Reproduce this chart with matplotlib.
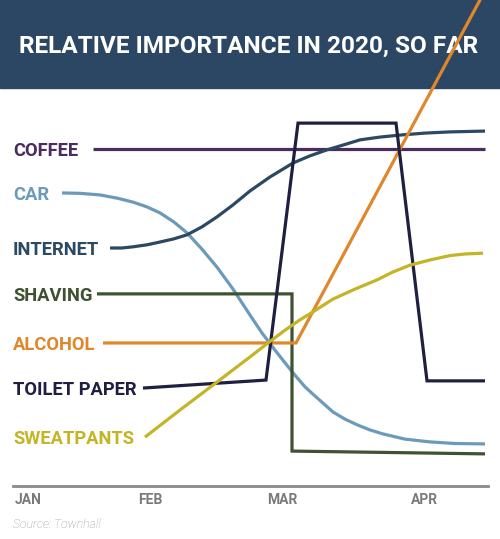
import matplotlib
matplotlib.use('Agg')
import matplotlib.pyplot as plt
from matplotlib.patches import Rectangle

plt.rcParams['font.family'] = ['Roboto', 'DejaVu Sans']

# time axis runs 0..100 across the chart, importance 0..100 from axis line to banner
month_labels = ['JAN', 'FEB', 'MAR', 'APR']
month_pos = [5.6, 30, 56.4, 84.8]

coffee_x = [18.6, 97]
coffee_y = [84.7, 84.7]

car_x = [12.4, 16, 20, 23.4, 26.6, 29.4, 32, 34.8, 37.4, 40.4, 43.4, 46.6, 50, 52.4,
         55, 58.6, 61, 63, 66.6, 69, 71.6, 74, 76.6, 81, 86, 91, 97]
car_y = [73.7, 73.6, 73.2, 72.4, 71.4, 70.2, 68.7, 66.4, 63.7, 59.6, 55.1, 49.6, 43.1, 38.6,
         34.3, 28.6, 25.1, 22.8, 18.8, 17.0, 15.5, 14.3, 13.3, 12.0, 11.3, 10.9, 10.8]

internet_x = [22, 24.4, 26.6, 29.4, 32, 34.8, 37.4, 40.4, 43.4, 46.6, 50, 54, 58.6, 62,
              65.4, 68.6, 72, 76, 80, 85, 90, 97]
internet_y = [59.9, 59.9, 60.2, 60.7, 61.4, 62.2, 63.2, 65.2, 67.7, 70.7, 74.2, 77.7, 81.2, 83.0,
              84.5, 85.7, 87.0, 87.7, 88.2, 88.7, 89.0, 89.2]

shaving_x = [19.4, 58.4, 58.4, 97]
shaving_y = [48.4, 48.4, 9.0, 8.3]

alcohol_x = [20.6, 59.2, 97]
alcohol_y = [36.1, 36.1, 124.4]

toilet_x = [28.6, 53.2, 59.6, 79.2, 85.4, 97]
toilet_y = [24.8, 26.8, 91.2, 91.2, 26.6, 26.6]

sweat_x = [29, 36, 43.4, 50, 53.6, 57, 60, 62.6, 66.6, 71, 75.4, 78.6, 82, 86, 90, 93, 96.6]
sweat_y = [12.5, 19.3, 26.3, 32.6, 36.1, 39.3, 41.9, 43.9, 47.1, 49.6, 51.9, 53.9, 55.6, 56.9,
           58.0, 58.4, 58.6]

series = [
    ('COFFEE', coffee_x, coffee_y, '#4b2c5e'),
    ('CAR', car_x, car_y, '#6b9bb9'),
    ('INTERNET', internet_x, internet_y, '#2b4962'),
    ('SHAVING', shaving_x, shaving_y, '#3e5231'),
    ('ALCOHOL', alcohol_x, alcohol_y, '#e0862b'),
    ('TOILET PAPER', toilet_x, toilet_y, '#1f1f42'),
    ('SWEATPANTS', sweat_x, sweat_y, '#c3b526'),
]

W, H = 500, 539
fig = plt.figure(figsize=(W / 100, H / 100), dpi=100)

# title banner
fig.patches.append(Rectangle((0, 1 - 88 / H), 1, 88 / H, transform=fig.transFigure,
                             color='#2c4764', zorder=0))
fig.text(0.498, 1 - 46 / H, 'RELATIVE IMPORTANCE IN 2020, SO FAR', color='white',
         ha='center', va='center', fontsize=17.6, fontweight='bold', zorder=1)

ax = fig.add_axes([0, (H - 487) / H, 1, (487 - 88) / H])
ax.set_zorder(5)
ax.patch.set_visible(False)
ax.set_xlim(0, 100)
ax.set_ylim(0, 100)
for s in ax.spines.values():
    s.set_visible(False)

for name, xs, ys, col in series:
    ax.plot(xs, ys, color=col, lw=2.3, clip_on=False, solid_joinstyle='miter',
            solid_capstyle='butt')
    ax.text(2.6, ys[0], name, color=col, fontsize=13.2, fontweight='semibold',
            ha='left', va='center_baseline')

# axis line and month labels
ax.plot([2.6, 97.6], [0.2, 0.2], color='#8a8a8a', lw=2, clip_on=False)
ax.set_xticks(month_pos)
ax.set_xticklabels(month_labels, color='#7a7a7a', fontsize=10, fontweight='bold')
ax.tick_params(axis='x', length=0, pad=4)
ax.set_yticks([])

fig.text(13 / W, 1 - 524 / H, 'Source: Townhall', color='#9a9a9a', fontsize=8.8,
         style='italic', fontweight='light', ha='left', va='center')

fig.savefig('out.png', dpi=100)
